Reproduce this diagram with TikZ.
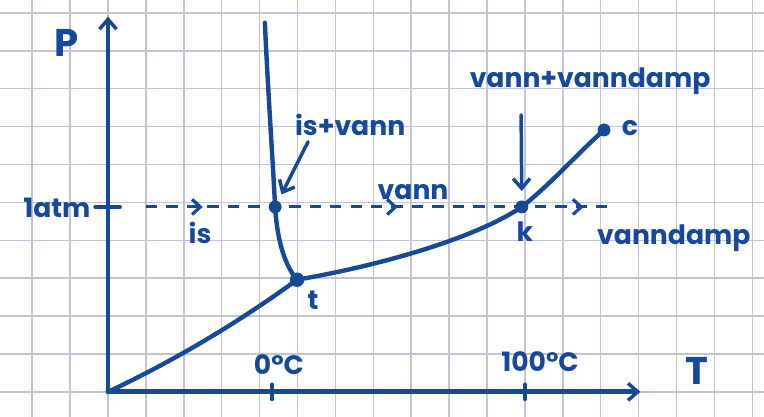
\documentclass[tikz,border=0pt]{standalone}
\usepackage{fontspec}
\setmainfont{Poppins}
\usetikzlibrary{arrows.meta,positioning,calc,decorations.markings}
\definecolor{inkblue}{RGB}{24,72,152}
\definecolor{gridgray}{RGB}{194,196,212}

\begin{document}
\begin{tikzpicture}[x=1cm, y=1cm,
    ink/.style={draw=inkblue, line width=3.3pt, line cap=round, line join=round},
    tip/.style={-{Straight Barb[length=2.6mm, width=4.5mm, line width=2.6pt]}},
    lbl/.style={text=inkblue, font=\fontsize{20}{24}\selectfont\bfseries, inner sep=0pt},
    biglbl/.style={lbl, font=\fontsize{29}{32}\selectfont\bfseries},
    dot/.style={circle, fill=inkblue, inner sep=0pt, minimum size=3.8mm}]
    % squared paper
    \useasboundingbox (-2.85,-0.66) rectangle (17.31,10.34);
    \fill[white] (-2.85,-0.66) rectangle (17.31,10.34);
    \draw[gridgray, line width=1.1pt] (-2.85,-0.66) grid (17.31,10.34);

    % axes
    \coordinate (O) at (0,0);
    \coordinate (Ptop) at (0,9.9);
    \coordinate (Tend) at (14.05,0);
    \draw[ink, line width=3.6pt, tip] (O) -- (Ptop);
    \draw[ink, line width=3.6pt, tip] (O) -- (Tend);
    \node[biglbl] (Plbl) at (-1.1,9.2) {P};
    \node[biglbl] (Tlbl) at (15.54,0.55) {T};

    % ticks
    \coordinate (tick0) at (4.33,0);
    \coordinate (tick100) at (11.0,0);
    \coordinate (tickatm) at (0,4.88);
    \draw[ink, line width=2.6pt] ($(tick0)+(0,-0.2)$) -- ($(tick0)+(0,0.2)$);
    \draw[ink, line width=2.6pt] ($(tick100)+(0,-0.2)$) -- ($(tick100)+(0,0.2)$);
    \draw[ink, line width=2.6pt] ($(tickatm)+(-0.34,0)$) -- ($(tickatm)+(0.32,0)$);
    \node[lbl] (zeroC) at (4.51,0.71) {0°C};
    \node[lbl] (hundredC) at (11.4,0.79) {100°C};
    \node[lbl] (atm) at (-1.35,4.86) {1atm};

    % special points
    \coordinate (t) at (4.99,2.96);
    \coordinate (m) at (4.41,4.88);
    \coordinate (k) at (10.92,4.88);
    \coordinate (c) at (13.09,6.91);
    \coordinate (mtop) at (4.14,9.74);

    % 1 atm line
    \coordinate (d0) at (1.0,4.88);
    \coordinate (d1) at (13.25,4.88);
    \draw[draw=inkblue, line width=2.2pt, dash pattern=on 3mm off 2.4mm,
      postaction={decorate},
      decoration={markings,
        mark=at position 1.5cm with {\arrow[inkblue, solid]{Straight Barb[length=2.2mm, width=4mm, line width=2.4pt]}},
        mark=at position 6.65cm with {\arrow[inkblue, solid]{Straight Barb[length=2.2mm, width=4mm, line width=2.4pt]}},
        mark=at position 11.55cm with {\arrow[inkblue, solid]{Straight Barb[length=2.2mm, width=4mm, line width=2.4pt]}}}]
      (d0) -- (d1);

    % phase boundaries
    \draw[ink] (O) .. controls (1.7,0.8) and (3.4,1.8) .. (t);
    \draw[ink] (t) .. controls (4.6,3.4) and (4.45,4.2) .. (m)
      .. controls (4.33,6.4) and (4.2,8.3) .. (mtop);
    \draw[ink] (t) .. controls (7.0,3.3) and (9.6,4.0) .. (k)
      .. controls (11.7,5.5) and (12.4,6.3) .. (c);

    \node[dot] (tdot) at (t) {};
    \node[dot, minimum size=3.4mm] (mdot) at (m) {};
    \node[dot, minimum size=3.4mm] (kdot) at (k) {};
    \node[dot, minimum size=3.4mm] (cdot) at (c) {};
    \node[lbl] (tlbl) at (5.41,2.43) {t};
    \node[lbl] (klbl) at (11.0,4.22) {k};
    \node[lbl] (clbl) at (13.77,6.97) {c};

    % phase labels
    \node[lbl] (is) at (2.43,4.2) {is};
    \node[lbl] (vann) at (8.05,5.28) {vann};
    \node[lbl] (damp) at (14.93,4.05) {vanndamp};
    \node[lbl] (isvann) at (6.39,7.04) {is+vann};
    \node[lbl] (vanndamp) at (12.72,8.2) {vann+vanndamp};
    \coordinate (isvannTail) at (5.28,6.6);
    \coordinate (vanndampTail) at (10.9,7.31);
    \draw[ink, line width=2.6pt, tip, shorten >=3.7mm] (isvannTail) -- (m);
    \draw[ink, line width=2.6pt, tip, shorten >=4.2mm] (vanndampTail) -- (k);
\end{tikzpicture}
\end{document}
